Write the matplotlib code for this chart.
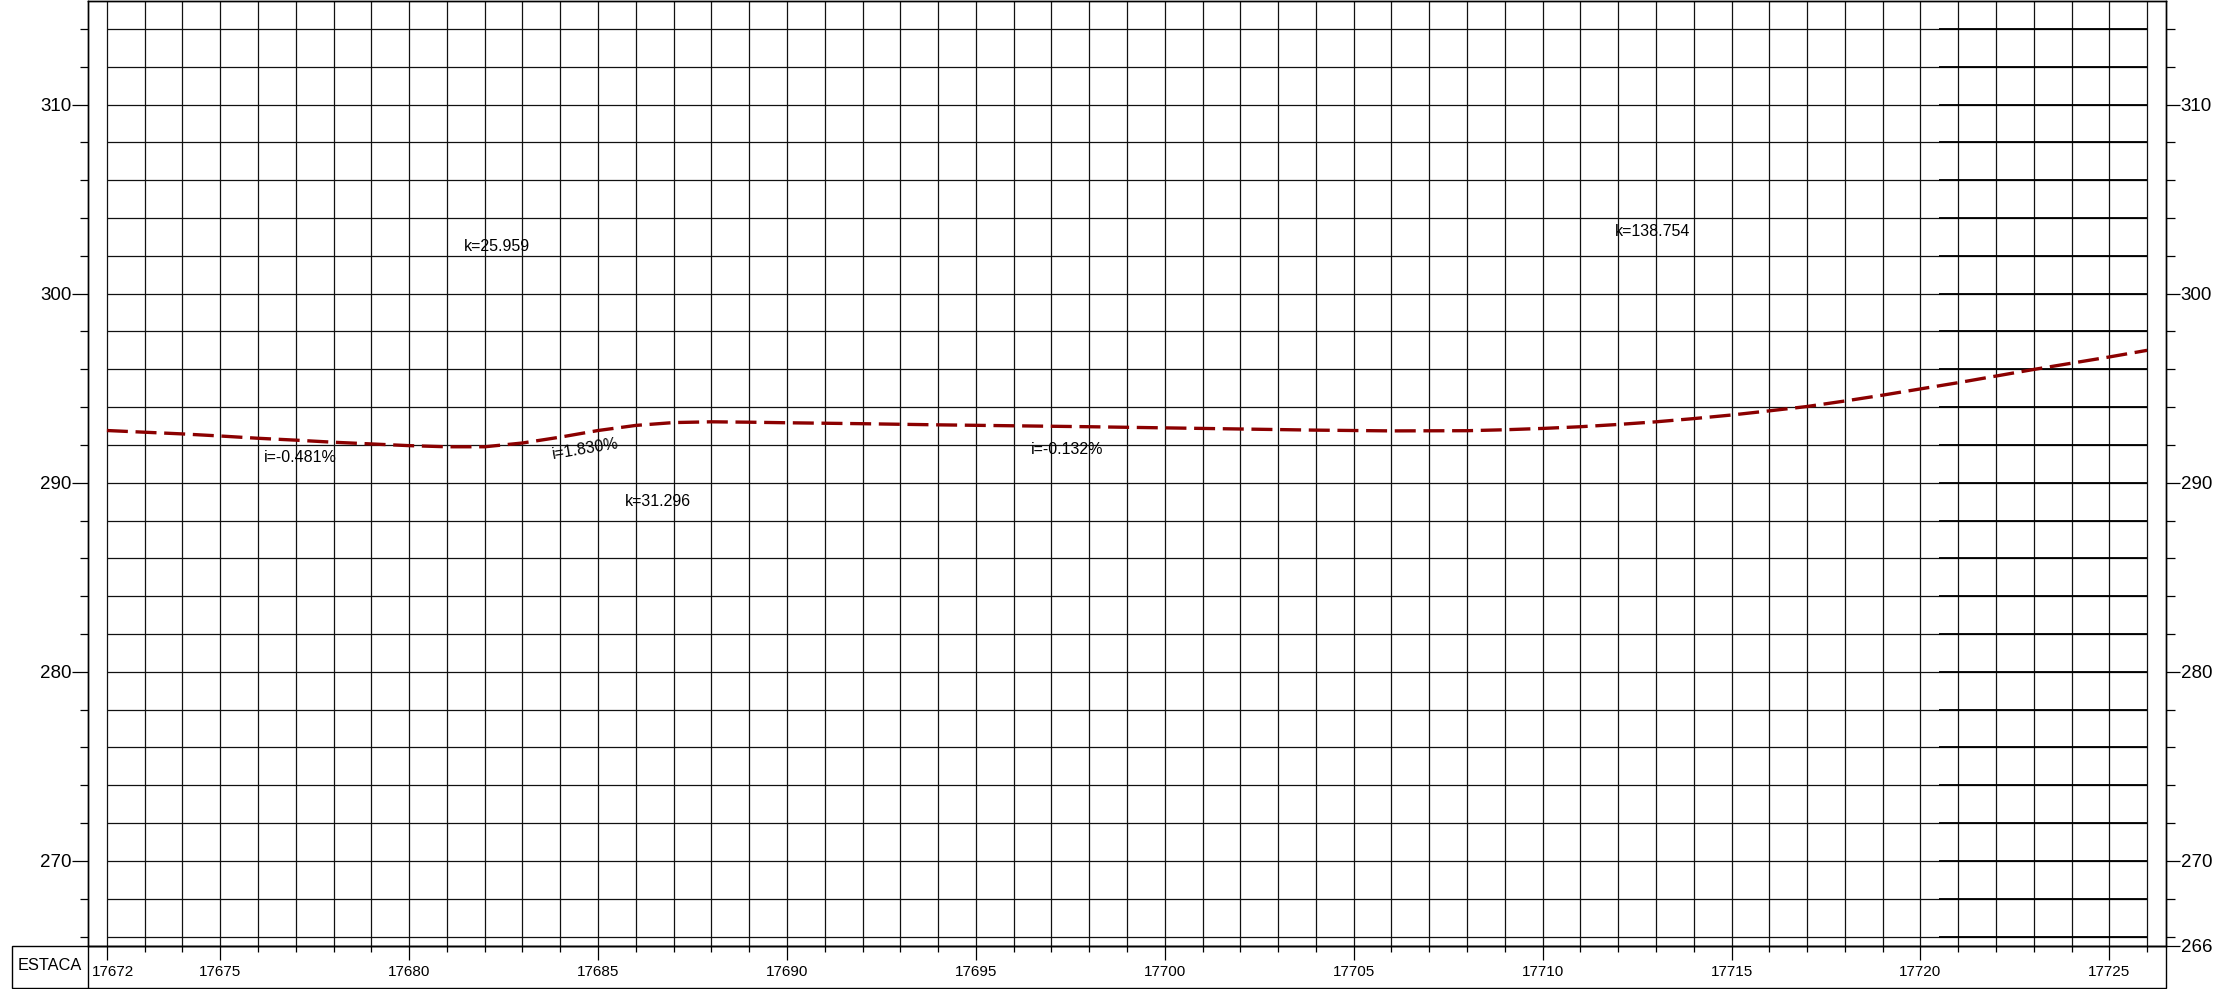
import matplotlib
matplotlib.use("Agg")
import matplotlib.pyplot as plt
from matplotlib.patches import Rectangle
from matplotlib.lines import Line2D
from matplotlib.ticker import FixedLocator
from matplotlib.transforms import offset_copy

plt.rcParams["font.family"] = ["Liberation Sans", "DejaVu Sans"]

# greide (estaca x cota)
estacas = [17672, 17673, 17674, 17675, 17676, 17677, 17678, 17679, 17680, 17681,
           17682, 17683, 17684, 17685, 17686, 17687, 17688, 17689, 17690, 17692,
           17694, 17696, 17698, 17700, 17702, 17704, 17706, 17708, 17709, 17710,
           17711, 17712, 17713, 17714, 17715, 17716, 17717, 17718, 17719, 17720,
           17721, 17722, 17723, 17724, 17725, 17726]
cotas = [292.76, 292.67, 292.58, 292.47, 292.35, 292.25, 292.14, 292.05, 291.96, 291.90,
         291.90, 292.10, 292.41, 292.76, 293.03, 293.18, 293.22, 293.20, 293.17, 293.12,
         293.06, 293.01, 292.96, 292.90, 292.84, 292.78, 292.74, 292.75, 292.80, 292.87,
         292.96, 293.08, 293.22, 293.39, 293.58, 293.80, 294.03, 294.32, 294.63, 294.96,
         295.29, 295.64, 295.99, 296.32, 296.65, 297.00]

grade_x = list(range(17672, 17727))
grade_y = list(range(266, 315, 2))
xlabels = [17672, 17675, 17680, 17685, 17690, 17695, 17700, 17705, 17710,
           17715, 17720, 17725]
yticks_esq = [270, 280, 290, 300, 310]
yticks_dir = [265.5, 270, 280, 290, 300, 310]
ylabels_dir = ["266", "270", "280", "290", "300", "310"]

# textos do perfil: (estaca, cota, texto)
textos_i = [(17676.16, 291.32, "i=-0.481%"),
            (17696.45, 291.74, "i=-0.132%")]
texto_i_rot = (17684.66, 291.80, "i=1.830%")
textos_k = [(17681.45, 302.51, "k=25.959"),
            (17685.71, 289.02, "k=31.296"),
            (17711.92, 303.30, "k=138.754")]

W, H = 2223, 989
fig = plt.figure(figsize=(W / 100, H / 100), dpi=100)
ax = fig.add_axes([88 / W, 43 / H, 2078 / W, 945.5 / H])
ax.set_xlim(17671.5, 17726.5)
ax.set_ylim(265.5, 315.5)

# malha
ax.vlines(grade_x, 0, 1, transform=ax.get_xaxis_transform(), color="#111111", lw=0.9, zorder=1)
ax.hlines(grade_y, grade_x[0], grade_x[-1], color="#111111", lw=0.9, zorder=1)
ax.hlines(grade_y, 17720.5, grade_x[-1], color="black", lw=1.3, zorder=1)

# greide
ax.plot(estacas, cotas, color="#8B0000", lw=2.4, dashes=(6.3, 2.3), zorder=3)

for x, y, t in textos_i:
    ax.text(x, y, t, fontsize=11.5, ha="left", va="center", zorder=4)
ax.text(texto_i_rot[0], texto_i_rot[1], texto_i_rot[2], fontsize=11.5, ha="center",
        va="center", rotation=9.5, rotation_mode="anchor", zorder=4)
for x, y, t in textos_k:
    ax.text(x, y, t, fontsize=11.5, ha="left", va="center", zorder=4)

# eixo x
ax.set_xticks(xlabels)
ax.set_xticklabels([])
ax.xaxis.set_minor_locator(FixedLocator(grade_x))
ax.tick_params(axis="x", which="major", length=10, width=0.9, direction="out")
ax.tick_params(axis="x", which="minor", length=4.5, width=0.9, direction="out")
trans = ax.get_xaxis_transform()
for i, e in enumerate(xlabels):
    tr = offset_copy(trans, fig=fig, x=6 if i == 0 else 0, y=0, units="dots")
    ax.text(e, -26 / 945.5, str(e), transform=tr, fontsize=11, ha="center",
            va="center", clip_on=False)

# eixo y esquerdo
ax.set_yticks(yticks_esq)
ax.yaxis.set_minor_locator(FixedLocator(grade_y))
ax.tick_params(axis="y", which="major", length=11.5, width=0.9, direction="out",
               labelsize=13.5, pad=0.5)
ax.tick_params(axis="y", which="minor", length=6, width=0.9, direction="out")

# eixo y direito
ax2 = ax.twinx()
ax2.set_ylim(ax.get_ylim())
ax2.set_yticks(yticks_dir)
ax2.set_yticklabels(ylabels_dir)
ax2.yaxis.set_minor_locator(FixedLocator(grade_y))
ax2.tick_params(axis="y", which="major", length=10, width=0.9, direction="out",
                labelsize=13.5, pad=0.5)
ax2.tick_params(axis="y", which="minor", length=6.5, width=0.9, direction="out")

for a in (ax, ax2):
    for s in a.spines.values():
        s.set_linewidth(1.0)

# quadro da estaca
fig.add_artist(Rectangle((12 / W, 1.5 / H), (2166 - 12) / W, (43 - 1.5) / H,
                         transform=fig.transFigure, fill=False, lw=1.0, ec="black"))
fig.add_artist(Line2D([88 / W, 88 / W], [1.5 / H, 43 / H], transform=fig.transFigure,
                      lw=1.0, color="black"))
fig.text(50 / W, (989 - 966) / H, "ESTACA", fontsize=11.8, ha="center", va="center")

fig.savefig("out.png", dpi=100)
